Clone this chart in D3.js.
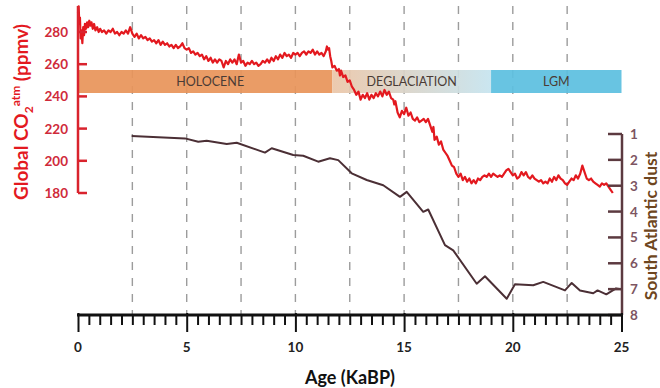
<!DOCTYPE html>
<html>
<head>
<meta charset="utf-8">
<script src="https://cdn.jsdelivr.net/npm/d3@7"></script>
<style>
  body { margin: 0; background: #fff; }
  text { font-family: Lato, "Open Sans", sans-serif; }
</style>
</head>
<body>
<div id="chart"></div>
<script>
// CO2 record (age in ka BP, ppmv)
const co2Age = [0.00,0.03,0.06,0.09,0.12,0.16,0.20,0.24,0.28,0.32,0.37,0.42,0.47,0.52,0.57,0.62,0.68,0.74,0.80,0.88,0.95,1.02,1.10,
  1.2,1.3,1.4,1.5,1.6,1.7,1.8,1.9,2.0,2.1,2.2,2.3,2.4,2.5,2.6,2.7,2.8,2.9,3.0,
  3.1,3.2,3.3,3.4,3.5,3.6,3.7,3.8,3.9,4.0,4.1,4.2,4.3,4.4,4.5,4.6,4.7,4.8,4.9,5.0,
  5.1,5.2,5.3,5.4,5.5,5.6,5.7,5.8,5.9,6.0,6.1,6.2,6.3,6.4,6.5,6.6,6.7,6.8,6.9,7.0,
  7.1,7.2,7.3,7.4,7.5,7.6,7.7,7.8,7.9,8.0,8.1,8.2,8.3,8.4,8.5,8.6,8.7,8.8,8.9,9.0,
  9.1,9.2,9.3,9.4,9.5,9.6,9.7,9.8,9.9,10.0,10.1,10.2,10.3,10.4,10.5,10.6,10.7,10.8,10.9,11.0,11.1,11.2,11.3,11.4,11.45,11.5,11.55,11.6,11.65,11.7,
  11.8,11.9,12.0,12.05,12.1,12.2,12.3,12.4,12.5,12.6,12.7,12.8,12.9,13.0,13.1,13.2,13.3,13.4,13.5,13.6,13.7,13.8,13.9,14.0,14.1,14.2,14.3,14.4,14.5,14.55,14.6,14.7,14.8,14.9,15.0,
  15.1,15.2,15.3,15.4,15.5,15.6,15.7,15.8,15.9,16.0,16.1,16.2,16.3,16.35,16.4,16.5,16.6,16.7,16.8,16.9,17.0,17.1,17.2,17.3,17.4,17.5,17.6,17.7,17.8,17.9,18.0,
  18.1,18.2,18.3,18.4,18.5,18.6,18.7,18.8,18.9,19.0,19.1,19.2,19.3,19.4,19.5,19.6,19.7,19.8,19.9,20.0,
  20.1,20.2,20.3,20.4,20.5,20.6,20.7,20.8,20.9,21.0,21.1,21.2,21.3,21.4,21.5,21.6,21.7,21.8,21.9,22.0,
  22.1,22.2,22.3,22.4,22.5,22.6,22.7,22.8,22.9,23.0,23.1,23.2,23.3,23.4,23.5,23.6,23.7,23.8,23.9,24.0,24.1,24.2,24.3,24.4,24.5,24.6];
const co2Ppm = [292,296,285,289,276,281,273,283,278,285,282,286,283,287,284,286,282,285,281,283,280,282,280,
  281,279,281,280,282,279,280,278,280,279,281,279,283,279,277,279,276,278,276,
  277,275,276,274,275,273,275,272,274,272,273,271,272,270,272,270,271,273,270,269,
  270,267,268,266,267,265,266,263,265,262,264,261,263,261,263,262,258,262,260,263,
  261,263,260,266,261,262,259,261,260,262,260,261,259,260,262,261,263,261,264,262,
  265,263,266,264,267,265,266,264,267,266,267,265,267,268,266,268,267,269,266,268,266,267,265,268,271,269,270,265,262,258,
  259,256,257,253,256,252,253,249,250,246,244,241,243,238,241,239,242,238,241,239,242,240,243,240,244,241,243,239,238,235,237,230,227,231,229,
  233,228,230,226,225,227,224,225,226,224,226,222,218,221,213,215,210,212,207,205,203,200,197,196,192,190,192,188,190,187,189,
  186,188,186,189,188,190,191,190,192,190,192,191,190,191,190,192,194,195,193,191,
  192,189,190,193,191,193,190,189,191,189,188,187,188,186,187,186,189,187,190,188,
  191,189,188,186,185,187,189,188,191,189,192,197,193,189,188,189,187,186,185,184,186,185,186,184,182,180];

// South Atlantic dust record (age in ka BP, relative units)
const dustAge = [2.47,4.92,5.53,5.92,6.84,7.3,8.6,8.91,9.9,10.36,11.05,11.59,11.97,12.59,13.28,14.04,14.81,15.12,15.88,16.11,16.88,17.26,18.34,18.72,19.72,20.1,20.94,21.4,22.4,22.71,23.09,23.7,23.9,24.3,24.75,25];
const dustValue = [1.08,1.17,1.30,1.26,1.39,1.34,1.72,1.55,1.81,1.84,2.07,1.94,2.01,2.52,2.78,2.98,3.43,3.24,4.01,3.92,5.30,5.50,6.79,6.50,7.37,6.81,6.85,6.72,7.05,6.76,7.05,7.16,7.05,7.2,6.97,7.0];

// climate periods
const periodNames = ["HOLOCENE", "DEGLACIATION", "LGM"];
const periodStart = [0, 11.7, 19];
const periodEnd = [11.7, 19, 25];

const xTicks = [0, 5, 10, 15, 20, 25];
const gridTicks = [2.5, 5, 7.5, 10, 12.5, 15, 17.5, 20, 22.5];
const co2Ticks = [180, 200, 220, 240, 260, 280];
const dustTicks = [1, 2, 3, 4, 5, 6, 7, 8];

const width = 660, height = 388;

const svg = d3.select("#chart").append("svg")
  .attr("width", width)
  .attr("height", height);

const x = d3.scaleLinear().domain([0, 25]).range([78, 621.5]);
const yCo2 = d3.scaleLinear().domain([180, 280]).range([193, 32]);
const yDust = d3.scaleLinear().domain([1, 8]).range([134, 315]);
const baseY = 315;

// gradient for deglaciation band
const defs = svg.append("defs");
const grad = defs.append("linearGradient").attr("id", "degl");
grad.append("stop").attr("offset", "0%").attr("stop-color", "#ebc6a8");
grad.append("stop").attr("offset", "100%").attr("stop-color", "#c6e4ef");
const bandFill = ["#e8945a", "url(#degl)", "#5dbfe0"];

// dashed grid lines
svg.append("g")
  .selectAll("line")
  .data(gridTicks)
  .enter().append("line")
    .attr("x1", d => x(d)).attr("x2", d => x(d))
    .attr("y1", 6).attr("y2", baseY)
    .attr("stroke", "#9c9c9c")
    .attr("stroke-width", 1.4)
    .attr("stroke-dasharray", "8,8");

// period bands
const bands = svg.append("g");
bands.selectAll("rect")
  .data(periodNames)
  .enter().append("rect")
    .attr("x", (d, i) => x(periodStart[i]))
    .attr("width", (d, i) => x(periodEnd[i]) - x(periodStart[i]))
    .attr("y", 70).attr("height", 23)
    .attr("fill", (d, i) => bandFill[i])
    .attr("opacity", 0.93);
bands.selectAll("text")
  .data(periodNames)
  .enter().append("text")
    .attr("x", (d, i) => x((periodStart[i] + periodEnd[i]) / 2) + (i === 0 ? 5 : 0))
    .attr("y", 86)
    .attr("text-anchor", "middle")
    .attr("font-size", 12.5)
    .attr("fill", "#4a3b35")
    .text(d => d);

// dust line
svg.append("path")
  .datum(dustAge.map((a, i) => [a, dustValue[i]]))
  .attr("fill", "none")
  .attr("stroke", "#4b2f35")
  .attr("stroke-width", 2)
  .attr("stroke-linejoin", "round")
  .attr("d", d3.line().x(d => x(d[0])).y(d => yDust(d[1])));

// CO2 line
svg.append("path")
  .datum(co2Age.map((a, i) => [a, co2Ppm[i]]))
  .attr("fill", "none")
  .attr("stroke", "#e3191f")
  .attr("stroke-width", 2.2)
  .attr("stroke-linejoin", "round")
  .attr("d", d3.line().x(d => x(d[0])).y(d => yCo2(d[1])));

// left axis (CO2)
const left = svg.append("g");
left.append("line")
  .attr("x1", 78).attr("x2", 78)
  .attr("y1", yCo2(180)).attr("y2", 6)
  .attr("stroke", "#d9232d").attr("stroke-width", 2.5);
left.selectAll(".tk")
  .data(co2Ticks)
  .enter().append("line")
    .attr("x1", 78).attr("x2", 87)
    .attr("y1", d => yCo2(d)).attr("y2", d => yCo2(d))
    .attr("stroke", "#d9232d").attr("stroke-width", 2.5);
left.selectAll("text")
  .data(co2Ticks)
  .enter().append("text")
    .attr("x", 68)
    .attr("y", d => yCo2(d) + 5)
    .attr("text-anchor", "end")
    .attr("font-size", 13.5)
    .attr("font-weight", "bold")
    .attr("fill", "#cf2a3a")
    .text(d => d);

const leftTitle = svg.append("text")
  .attr("transform", "translate(28,112) rotate(-90)")
  .attr("text-anchor", "middle")
  .attr("font-size", 19)
  .attr("font-weight", "bold")
  .attr("fill", "#e3191f");
leftTitle.append("tspan").text("Global CO");
leftTitle.append("tspan").attr("font-size", 12).attr("dy", 5).text("2");
leftTitle.append("tspan").attr("font-size", 12).attr("dy", -13).text("atm");
leftTitle.append("tspan").attr("dy", 8).text(" (ppmv)");

// right axis (dust)
const right = svg.append("g");
right.append("line")
  .attr("x1", 622).attr("x2", 622)
  .attr("y1", yDust(1)).attr("y2", baseY)
  .attr("stroke", "#5c3a40").attr("stroke-width", 2.5);
right.selectAll(".tk")
  .data(dustTicks)
  .enter().append("line")
    .attr("x1", 608).attr("x2", 622)
    .attr("y1", d => yDust(d)).attr("y2", d => yDust(d))
    .attr("stroke", "#5c3a40").attr("stroke-width", 2.5);
right.selectAll("text")
  .data(dustTicks)
  .enter().append("text")
    .attr("x", 630)
    .attr("y", d => yDust(d) + 5)
    .attr("font-size", 13.5)
    .attr("font-weight", "bold")
    .attr("fill", "#7d5562")
    .text(d => d);

svg.append("text")
  .attr("transform", "translate(657,226) rotate(-90)")
  .attr("text-anchor", "middle")
  .attr("font-size", 17.5)
  .attr("font-weight", "bold")
  .attr("fill", "#6e4620")
  .text("South Atlantic dust");

// bottom axis
const xAxis = d3.axisBottom(x)
  .tickValues(d3.range(0, 25.01, 0.5))
  .tickSize(10)
  .tickFormat("");
const bottom = svg.append("g")
  .attr("transform", `translate(0,${baseY})`)
  .call(xAxis);
bottom.select(".domain").remove();
bottom.selectAll(".tick line")
  .attr("stroke", "#111")
  .attr("stroke-width", 2);
bottom.selectAll(".tick")
  .filter(d => xTicks.includes(d))
  .select("line")
    .attr("y1", -2)
    .attr("y2", 17);
bottom.append("line")
  .attr("x1", x(0) - 1).attr("x2", x(25) + 1)
  .attr("stroke", "#111").attr("stroke-width", 3);
bottom.selectAll(".lbl")
  .data(xTicks)
  .enter().append("text")
    .attr("x", d => x(d))
    .attr("y", 37)
    .attr("text-anchor", "middle")
    .attr("font-size", 13.5)
    .attr("font-weight", "bold")
    .attr("fill", "#222")
    .text(d => d);

svg.append("text")
  .attr("x", 350)
  .attr("y", 384)
  .attr("text-anchor", "middle")
  .attr("font-size", 18)
  .attr("font-weight", "bold")
  .attr("fill", "#111")
  .text("Age (KaBP)");
</script>
</body>
</html>
